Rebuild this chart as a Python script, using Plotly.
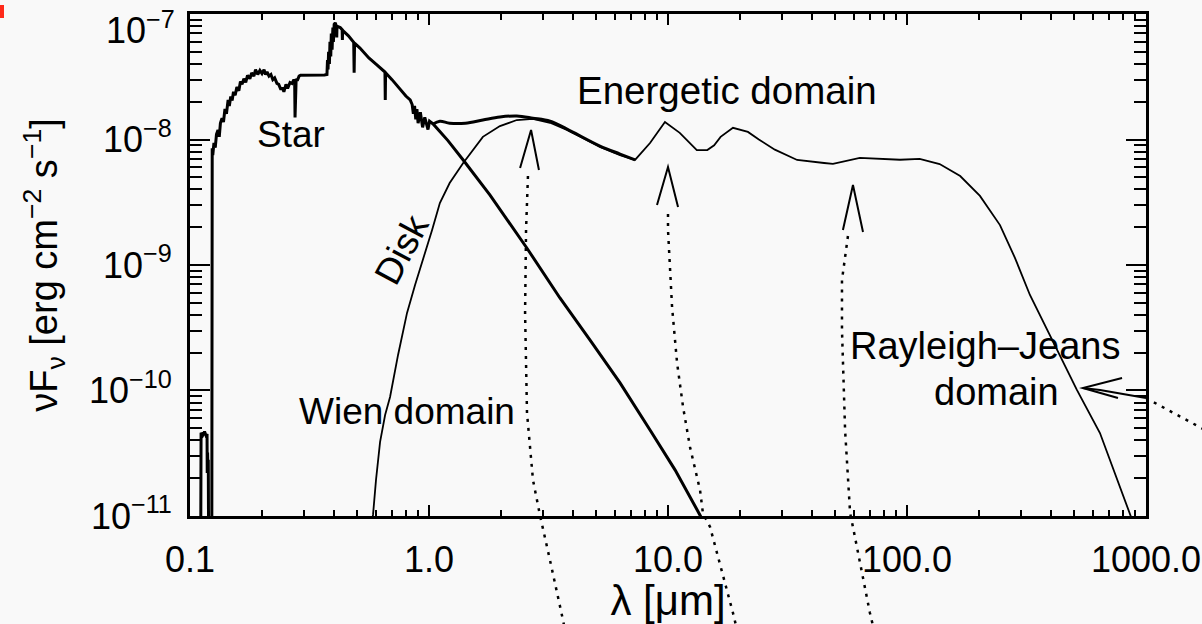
import math
import plotly.graph_objects as go

# ---------------- data ----------------
# Stellar spectrum (thick line)
star_lam = [0.1105, 0.1112, 0.1130, 0.1150, 0.1165, 0.1178, 0.1180, 0.1184, 0.1188, 0.1192, 0.1200,
            0.1232, 0.1238, 0.1245, 0.1259, 0.1275, 0.1290, 0.1309, 0.1325, 0.1340, 0.1361, 0.1380,
            0.1400, 0.1420, 0.1443, 0.1460, 0.1480, 0.1500, 0.1520, 0.1545, 0.1570, 0.1600, 0.1625,
            0.1650, 0.1680, 0.1710, 0.1740, 0.1780, 0.1810, 0.1850, 0.1880, 0.1920, 0.1960, 0.2000,
            0.2040, 0.2070, 0.2100, 0.2140, 0.2180, 0.2220, 0.2260, 0.2310, 0.2350, 0.2400, 0.2430,
            0.2470, 0.2520, 0.2560, 0.2620, 0.2670, 0.2720, 0.2740, 0.2750, 0.2760, 0.2780, 0.2810,
            0.2860, 0.2900, 0.2970, 0.3100, 0.3300, 0.3500, 0.3650, 0.3740, 0.3760, 0.3780, 0.3800,
            0.3830, 0.3850, 0.3880, 0.3900, 0.3930, 0.3960, 0.3980, 0.4010, 0.4050, 0.4100, 0.4110,
            0.4120, 0.4250, 0.4330, 0.4340, 0.4350, 0.4600, 0.4840, 0.4860, 0.4880, 0.5140, 0.5600,
            0.6000, 0.6420, 0.6540, 0.6560, 0.6580, 0.7000, 0.7500, 0.8000, 0.8340, 0.8500, 0.8600,
            0.8700, 0.8800, 0.8900, 0.9000, 0.9200, 0.9400, 0.9600, 0.9900, 1.0050, 1.0400, 1.2000,
            1.3900, 1.8000, 2.5700, 3.5300, 4.7200, 6.3000, 8.4100, 10.700, 13.600, 14.300]
star_F = [1e-12, 4.6e-11, 4.4e-11, 4.7e-11, 4.4e-11, 4.5e-11, 2.2e-11, 3.2e-11, 2.3e-11, 2.8e-11, 1e-12,
          1e-12, 8.5e-9, 7.5e-9, 9.4e-9, 8.6e-9, 1.1e-8, 1.19e-8, 1.05e-8, 1.35e-8, 1.48e-8, 1.38e-8,
          1.75e-8, 1.6e-8, 2.07e-8, 1.85e-8, 2.2e-8, 2.05e-8, 2.4e-8, 2.25e-8, 2.62e-8, 2.45e-8, 2.9e-8,
          2.75e-8, 3.05e-8, 2.85e-8, 3.25e-8, 3.05e-8, 3.4e-8, 3.2e-8, 3.6e-8, 3.3e-8, 3.55e-8, 3.35e-8,
          3.6e-8, 3.3e-8, 3.45e-8, 3.2e-8, 3.3e-8, 3.0e-8, 3.1e-8, 2.8e-8, 2.75e-8, 2.5e-8, 2.6e-8,
          2.4e-8, 2.75e-8, 2.55e-8, 2.85e-8, 2.8e-8, 3.0e-8, 2.9e-8, 1.5e-8, 2.9e-8, 3.05e-8, 2.95e-8,
          3.2e-8, 3.25e-8, 3.25e-8, 3.27e-8, 3.27e-8, 3.28e-8, 3.27e-8, 3.3e-8, 4.3e-8, 3.6e-8, 5.0e-8,
          4.0e-8, 6.0e-8, 4.6e-8, 7.0e-8, 5.2e-8, 7.8e-8, 6.0e-8, 8.3e-8, 8.5e-8, 8.0e-8, 6.5e-8,
          8.0e-8, 7.8e-8, 7.5e-8, 6.2e-8, 7.4e-8, 6.7e-8, 5.95e-8, 3.4e-8, 5.85e-8, 5.36e-8, 4.47e-8,
          3.98e-8, 3.58e-8, 3.45e-8, 2.07e-8, 3.4e-8, 3.0e-8, 2.57e-8, 2.22e-8, 2.07e-8, 1.9e-8, 1.6e-8,
          1.85e-8, 1.45e-8, 1.75e-8, 1.35e-8, 1.65e-8, 1.25e-8, 1.5e-8, 1.2e-8, 1.4e-8, 1.33e-8, 9.8e-9,
          6.87e-9, 3.61e-9, 1.36e-9, 5.46e-10, 2.52e-10, 1.15e-10, 4.84e-11, 2.33e-11, 1.02e-11, 8.5e-12]

# Disk SED (thin line)
disk_lam = [0.575, 0.583, 0.600, 0.624, 0.655, 0.687, 0.742, 0.809, 0.874, 0.944, 1.03, 1.11, 1.22,
            1.39, 1.68, 1.98, 2.33, 2.72, 3.21, 3.78, 5.19, 6.30, 7.28, 8.41, 9.71, 11.2, 13.2, 14.6,
            15.6, 16.6, 18.7, 21.6, 24.0, 28.0, 34.7, 45.0, 49.0, 63.5, 93.5, 113, 137, 167, 202, 245,
            283, 327, 437, 514, 642, 778, 857, 883]
disk_F = [9e-12, 1.02e-11, 1.94e-11, 3.89e-11, 6.38e-11, 8.87e-11, 1.92e-10, 4.15e-10, 6.94e-10,
          1.10e-9, 1.90e-9, 3.12e-9, 4.50e-9, 6.50e-9, 1.05e-8, 1.28e-8, 1.43e-8, 1.46e-8, 1.36e-8,
          1.19e-8, 8.71e-9, 7.52e-9, 6.87e-9, 9.38e-9, 1.38e-8, 1.13e-8, 8.24e-9, 8.24e-9, 9.0e-9,
          1.05e-8, 1.24e-8, 1.15e-8, 1.0e-8, 8.3e-9, 6.87e-9, 6.5e-9, 6.4e-9, 7.13e-9, 6.9e-9, 7.0e-9,
          6.38e-9, 5.12e-9, 3.55e-9, 2.08e-9, 1.14e-9, 5.77e-10, 1.85e-10, 1.01e-10, 4.58e-11,
          1.70e-11, 1.06e-11, 8.9e-12]

# Star + disk (thick line)
total_lam = [1.04, 1.11, 1.22, 1.42, 1.68, 1.98, 2.33, 2.72, 3.21, 3.78, 5.19, 6.30, 7.28]
total_F = [1.33e-8, 1.40e-8, 1.35e-8, 1.35e-8, 1.43e-8, 1.51e-8, 1.54e-8, 1.48e-8, 1.40e-8, 1.21e-8,
           8.87e-9, 7.66e-9, 6.87e-9]

x_tickvals = [0.1, 1, 10, 100, 1000]
x_ticktext = ["0.1", "1.0", "10.0", "100.0", "1000.0"]
y_tickvals = [1e-11, 1e-10, 1e-9, 1e-8, 1e-7]
y_ticktext = ["10<sup>−11</sup>", "10<sup>−10</sup>", "10<sup>−9</sup>", "10<sup>−8</sup>", ""]
top_label = "10<sup>−7</sup>"   # drawn separately, nudged down so it stays on the page

# labels: (text, lambda, flux, angle, font size)
labels = [
    ("Star", 0.265, 1.09e-8, 0, 37),
    ("Energetic domain", 17.7, 2.48e-8, 0, 38.5),
    ("Disk", 0.771, 1.32e-9, -62, 37),
    ("Wien domain", 0.809, 6.74e-11, 0, 37),
    ("Rayleigh–Jeans", 212, 2.26e-10, 0, 38),
    ("domain", 238, 9.73e-11, 0, 38),
]

# annotation arrows in (log10 lambda, log10 F) units; heads and dotted shafts
arrow_heads = [
    [(0.381, -8.227), (0.427, -7.924), (0.460, -8.243)],
    [(0.954, -8.522), (1.000, -8.219), (1.042, -8.538)],
    [(1.732, -8.721), (1.774, -8.363), (1.816, -8.737)],
    [(2.900, -9.900), (2.736, -9.980), (2.883, -10.060)],
]
arrow_shafts = [
    [(0.414, -8.291), (0.406, -8.721), (0.402, -9.382), (0.410, -10.179), (0.435, -10.713),
     (0.464, -10.992), (0.506, -11.351), (0.556, -11.789), (0.569, -11.908)],
    [(1.000, -8.594), (1.000, -8.721), (1.017, -9.335), (1.038, -9.781), (1.063, -10.131),
     (1.092, -10.450), (1.134, -10.793), (1.146, -10.976), (1.176, -11.088), (1.272, -11.773),
     (1.289, -11.908)],
    [(1.753, -8.769), (1.728, -9.120), (1.728, -9.518), (1.741, -10.315), (1.762, -10.976),
     (1.774, -11.088), (1.845, -11.773), (1.862, -11.908)],
    [(3.0, -10.060), (3.247, -10.315)],
]
arrow4_solid = [(2.736, -9.980), (2.808, -9.996), (3.0, -10.060)]

XR = [-1.0002, 3.0002]
YR = [-11.0002, -6.9998]
FONT = "Liberation Sans, Arial, sans-serif"


def to_paper(pt):
    lx, ly = pt
    return ((lx - XR[0]) / (XR[1] - XR[0]), (ly - YR[0]) / (YR[1] - YR[0]))


def path_of(pts):
    pp = [to_paper(p) for p in pts]
    return "M " + " L ".join(f"{x:.5f},{y:.5f}" for x, y in pp)


fig = go.Figure()
fig.add_trace(go.Scatter(x=disk_lam, y=disk_F, mode="lines",
                         line=dict(color="black", width=1.8), showlegend=False))
fig.add_trace(go.Scatter(x=star_lam, y=star_F, mode="lines",
                         line=dict(color="black", width=3), showlegend=False))
fig.add_trace(go.Scatter(x=total_lam, y=total_F, mode="lines",
                         line=dict(color="black", width=3, shape="spline"), showlegend=False))

shapes = []
for pts in arrow_shafts:
    shapes.append(dict(type="path", xref="paper", yref="paper", path=path_of(pts),
                       line=dict(color="black", width=2.5, dash="3px,6px")))
for pts in arrow_heads:
    shapes.append(dict(type="path", xref="paper", yref="paper", path=path_of(pts),
                       line=dict(color="black", width=2)))
shapes.append(dict(type="path", xref="paper", yref="paper", path=path_of(arrow4_solid),
                   line=dict(color="black", width=2)))
# small red mark at top-left corner of the scan
shapes.append(dict(type="rect", xref="paper", yref="paper",
                   x0=-190 / 956, x1=-186 / 956, y0=498 / 502, y1=511 / 502,
                   fillcolor="#ff2a1a", line=dict(width=0)))

annotations = []
for text, lam, F, ang, fs in labels:
    annotations.append(dict(x=math.log10(lam), y=math.log10(F), xref="x", yref="y", text=text,
                            showarrow=False, textangle=ang,
                            font=dict(family=FONT, size=fs, color="black")))
annotations.append(dict(x=-13 / 956, y=(516 - 28) / 502, xref="paper", yref="paper",
                        xanchor="right", yanchor="middle", text=top_label, showarrow=False,
                        font=dict(family=FONT, size=36, color="black")))

minor_x = [m * 10 ** e for e in range(-1, 3) for m in range(2, 10)]
minor_y = [m * 10 ** e for e in range(-11, -7) for m in range(2, 10)]

fig.update_layout(
    template="none",
    width=1202, height=624,
    margin=dict(l=190, r=56, t=14, b=108, autoexpand=False),
    paper_bgcolor="#f9f9f9", plot_bgcolor="#f9f9f9",
    font=dict(family=FONT, size=36, color="black"),
    shapes=shapes, annotations=annotations,
    showlegend=False,
)
fig.update_xaxes(type="log", range=XR, tickmode="array", tickvals=x_tickvals, ticktext=x_ticktext,
                 automargin=False, ticklabeloverflow="allow",
                 ticks="inside", ticklen=11, tickwidth=2, tickcolor="black",
                 showline=True, linewidth=3, linecolor="black", mirror="ticks",
                 showgrid=False, zeroline=False,
                 tickfont=dict(family=FONT, size=36, color="black"), ticklabelstandoff=10,
                 minor=dict(tickmode="array", tickvals=minor_x, ticks="inside", ticklen=6,
                            tickwidth=2, tickcolor="black", showgrid=False),
                 title=dict(text="λ [μm]", font=dict(family=FONT, size=42), standoff=0))
fig.update_yaxes(type="log", range=YR, tickmode="array", tickvals=y_tickvals, ticktext=y_ticktext,
                 automargin=False, ticklabeloverflow="allow",
                 ticks="inside", ticklen=20, tickwidth=2, tickcolor="black",
                 showline=True, linewidth=3, linecolor="black", mirror="ticks",
                 showgrid=False, zeroline=False,
                 tickfont=dict(family=FONT, size=36, color="black"), ticklabelstandoff=8,
                 minor=dict(tickmode="array", tickvals=minor_y, ticks="inside", ticklen=12,
                            tickwidth=2, tickcolor="black", showgrid=False),
                 title=dict(text="νF<sub>ν</sub> [erg cm<sup>−2</sup> s<sup>−1</sup>]",
                            font=dict(family=FONT, size=38), standoff=20))

fig.write_html("out.html")
